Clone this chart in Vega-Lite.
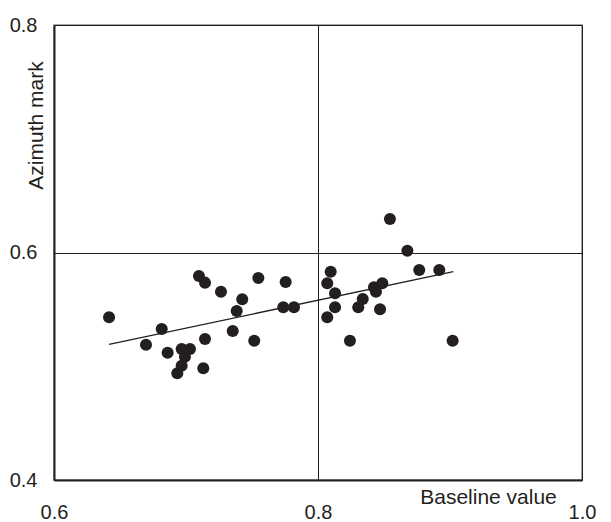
{
  "$schema": "https://vega.github.io/schema/vega-lite/v6.json",
  "width": 528,
  "height": 455,
  "autosize": {"type": "none"},
  "padding": {"left": 54, "top": 25, "right": 29, "bottom": 42},
  "background": "white",
  "config": {
    "view": {"stroke": "#8a8a8a", "strokeWidth": 1.5},
    "font": "Liberation Sans"
  },
  "layer": [
    {
      "data": {
        "values": [
          {"baseline": 0.6417, "azimuth": 0.5430},
          {"baseline": 0.6816, "azimuth": 0.5327},
          {"baseline": 0.6697, "azimuth": 0.5189},
          {"baseline": 0.6861, "azimuth": 0.5119},
          {"baseline": 0.6967, "azimuth": 0.5152},
          {"baseline": 0.7030, "azimuth": 0.5152},
          {"baseline": 0.6992, "azimuth": 0.5084},
          {"baseline": 0.6967, "azimuth": 0.5005},
          {"baseline": 0.6934, "azimuth": 0.4938},
          {"baseline": 0.7131, "azimuth": 0.4982},
          {"baseline": 0.7098, "azimuth": 0.5793},
          {"baseline": 0.7144, "azimuth": 0.5735},
          {"baseline": 0.7265, "azimuth": 0.5655},
          {"baseline": 0.7144, "azimuth": 0.5240},
          {"baseline": 0.7426, "azimuth": 0.5589},
          {"baseline": 0.7384, "azimuth": 0.5486},
          {"baseline": 0.7354, "azimuth": 0.5310},
          {"baseline": 0.7548, "azimuth": 0.5776},
          {"baseline": 0.7517, "azimuth": 0.5225},
          {"baseline": 0.7755, "azimuth": 0.5741},
          {"baseline": 0.7737, "azimuth": 0.5518},
          {"baseline": 0.7818, "azimuth": 0.5518},
          {"baseline": 0.8096, "azimuth": 0.5831},
          {"baseline": 0.8070, "azimuth": 0.5729},
          {"baseline": 0.8129, "azimuth": 0.5641},
          {"baseline": 0.8129, "azimuth": 0.5518},
          {"baseline": 0.8070, "azimuth": 0.5430},
          {"baseline": 0.8242, "azimuth": 0.5225},
          {"baseline": 0.8424, "azimuth": 0.5694},
          {"baseline": 0.8487, "azimuth": 0.5729},
          {"baseline": 0.8439, "azimuth": 0.5655},
          {"baseline": 0.8339, "azimuth": 0.5591},
          {"baseline": 0.8305, "azimuth": 0.5518},
          {"baseline": 0.8470, "azimuth": 0.5501},
          {"baseline": 0.8545, "azimuth": 0.6295},
          {"baseline": 0.8677, "azimuth": 0.6016},
          {"baseline": 0.8767, "azimuth": 0.5846},
          {"baseline": 0.8919, "azimuth": 0.5846},
          {"baseline": 0.9020, "azimuth": 0.5225}
        ]
      },
      "mark": {"type": "circle", "size": 145, "color": "#231f20", "opacity": 1},
      "encoding": {
        "x": {
          "field": "baseline",
          "type": "quantitative",
          "scale": {"domain": [0.6, 1.0], "nice": false, "zero": false},
          "axis": {
            "values": [0.6, 0.8, 1.0],
            "format": ".1f",
            "ticks": false,
            "labelFontSize": 20,
            "labelPadding": 22,
            "labelColor": "#231f20",
            "labelFlush": false,
            "domainColor": "#231f20",
            "domainWidth": 2,
            "grid": true,
            "gridColor": "#231f20",
            "gridOpacity": 1,
            "gridWidth": 1,
            "title": "Baseline value",
            "titleFontSize": 21,
            "titleFontWeight": "normal",
            "titleColor": "#231f20",
            "titleX": 434,
            "titleY": 17,
            "titleAlign": "center",
            "titleBaseline": "middle"
          }
        },
        "y": {
          "field": "azimuth",
          "type": "quantitative",
          "scale": {"domain": [0.4, 0.8], "nice": false, "zero": false},
          "axis": {
            "values": [0.4, 0.6, 0.8],
            "format": ".1f",
            "ticks": false,
            "labelFontSize": 20,
            "labelPadding": 17,
            "labelColor": "#231f20",
            "labelFlush": false,
            "labelBaseline": "middle",
            "domainColor": "#231f20",
            "domainWidth": 2,
            "grid": true,
            "gridColor": "#231f20",
            "gridOpacity": 1,
            "gridWidth": 1,
            "title": "Azimuth mark",
            "titleFontSize": 21,
            "titleFontWeight": "normal",
            "titleColor": "#231f20",
            "titleAngle": -90,
            "titleX": -18,
            "titleY": 100,
            "titleAlign": "center",
            "titleBaseline": "middle"
          }
        }
      }
    },
    {
      "data": {
        "values": [
          {"baseline": 0.6417, "azimuth": 0.5193},
          {"baseline": 0.9025, "azimuth": 0.5831}
        ]
      },
      "mark": {"type": "line", "color": "#231f20", "strokeWidth": 1.3},
      "encoding": {
        "x": {"field": "baseline", "type": "quantitative"},
        "y": {"field": "azimuth", "type": "quantitative"}
      }
    }
  ]
}
